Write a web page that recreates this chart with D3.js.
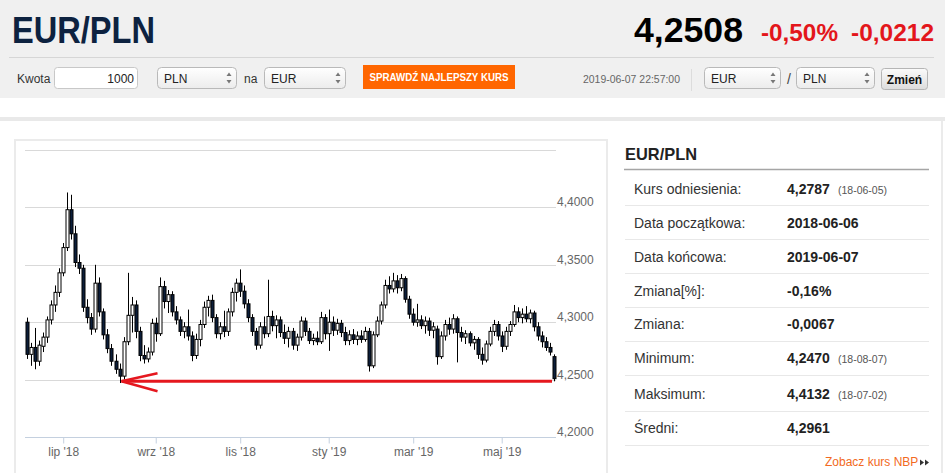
<!DOCTYPE html>
<html><head><meta charset="utf-8">
<script src="https://cdn.jsdelivr.net/npm/d3@7/dist/d3.min.js"></script>
<style>html,body{margin:0;padding:0;background:#fff;}svg{display:block;font-family:"Liberation Sans",Arial,sans-serif;}</style>
</head><body>
<script>
// ---------- DATA ----------
const dates = [
"2018-06-06","2018-06-08","2018-06-12","2018-06-14","2018-06-18","2018-06-20","2018-06-22","2018-06-26","2018-06-28",
"2018-07-02","2018-07-04","2018-07-06","2018-07-10","2018-07-12","2018-07-16","2018-07-18","2018-07-20","2018-07-24","2018-07-26","2018-07-30",
"2018-08-01","2018-08-03","2018-08-07","2018-08-09","2018-08-13","2018-08-15","2018-08-17","2018-08-21","2018-08-23","2018-08-27","2018-08-29","2018-08-31",
"2018-09-04","2018-09-06","2018-09-10","2018-09-12","2018-09-14","2018-09-18","2018-09-20","2018-09-24","2018-09-26","2018-09-28",
"2018-10-02","2018-10-04","2018-10-08","2018-10-10","2018-10-12","2018-10-16","2018-10-18","2018-10-22","2018-10-24","2018-10-26","2018-10-30",
"2018-11-01","2018-11-05","2018-11-07","2018-11-09","2018-11-13","2018-11-15","2018-11-19","2018-11-21","2018-11-23","2018-11-27","2018-11-29",
"2018-12-03","2018-12-05","2018-12-07","2018-12-11","2018-12-13","2018-12-17","2018-12-19","2018-12-21","2018-12-25","2018-12-27","2018-12-31",
"2019-01-02","2019-01-04","2019-01-08","2019-01-10","2019-01-14","2019-01-16","2019-01-18","2019-01-22","2019-01-24","2019-01-28","2019-01-30",
"2019-02-01","2019-02-05","2019-02-07","2019-02-11","2019-02-13","2019-02-15","2019-02-19","2019-02-21","2019-02-25","2019-02-27",
"2019-03-01","2019-03-05","2019-03-07","2019-03-11","2019-03-13","2019-03-15","2019-03-19","2019-03-21","2019-03-25","2019-03-27","2019-03-29",
"2019-04-02","2019-04-04","2019-04-08","2019-04-10","2019-04-12","2019-04-16","2019-04-18","2019-04-22","2019-04-24","2019-04-26","2019-04-30",
"2019-05-02","2019-05-06","2019-05-08","2019-05-10","2019-05-14","2019-05-16","2019-05-20","2019-05-22","2019-05-24","2019-05-28","2019-05-30",
"2019-06-03","2019-06-05","2019-06-07"];

const open = [4.300,4.272,4.278,4.266,4.279,4.287,4.302,4.315,4.326,4.343,4.365,4.398,4.377,4.352,4.347,4.313,4.304,4.294,4.334,4.309,
4.289,4.277,4.266,4.259,4.253,4.283,4.306,4.315,4.292,4.271,4.268,4.274,4.299,4.290,4.331,4.318,4.324,4.309,4.302,4.292,
4.296,4.288,4.271,4.285,4.298,4.313,4.319,4.304,4.290,4.296,4.292,4.309,4.326,4.334,4.327,4.316,4.304,4.292,4.280,4.296,
4.290,4.305,4.297,4.302,4.291,4.286,4.292,4.280,4.287,4.301,4.292,4.284,4.286,4.283,4.304,4.290,4.300,4.293,4.299,4.291,
4.284,4.289,4.285,4.288,4.285,4.292,4.262,4.289,4.301,4.315,4.332,4.329,4.336,4.330,4.338,4.320,4.307,4.300,4.302,4.297,
4.301,4.293,4.294,4.270,4.288,4.298,4.294,4.303,4.291,4.287,4.290,4.282,4.285,4.272,4.267,4.281,4.292,4.298,4.288,4.279,
4.292,4.298,4.309,4.304,4.307,4.303,4.308,4.296,4.288,4.283,4.278,4.270];
const high = [4.304,4.282,4.295,4.284,4.291,4.305,4.319,4.332,4.347,4.369,4.413,4.411,4.384,4.359,4.350,4.320,4.308,4.350,4.339,4.312,
4.294,4.281,4.272,4.264,4.287,4.343,4.322,4.319,4.296,4.280,4.278,4.303,4.304,4.339,4.336,4.328,4.327,4.314,4.305,4.300,
4.311,4.292,4.290,4.302,4.318,4.323,4.324,4.307,4.300,4.310,4.312,4.330,4.338,4.346,4.332,4.320,4.307,4.295,4.300,4.305,
4.337,4.310,4.306,4.305,4.298,4.296,4.295,4.290,4.305,4.304,4.295,4.290,4.292,4.309,4.307,4.311,4.305,4.303,4.302,4.296,
4.293,4.294,4.292,4.293,4.296,4.295,4.292,4.305,4.318,4.337,4.340,4.343,4.341,4.342,4.340,4.323,4.312,4.316,4.306,4.305,
4.304,4.300,4.297,4.292,4.302,4.304,4.307,4.305,4.296,4.293,4.292,4.288,4.287,4.278,4.284,4.296,4.302,4.301,4.292,4.296,
4.301,4.315,4.313,4.312,4.314,4.311,4.310,4.300,4.292,4.287,4.282,4.272];
const low = [4.268,4.262,4.259,4.262,4.274,4.282,4.298,4.309,4.322,4.340,4.362,4.372,4.348,4.342,4.309,4.299,4.289,4.291,4.305,4.285,
4.273,4.262,4.255,4.247,4.250,4.280,4.291,4.286,4.266,4.264,4.265,4.271,4.283,4.288,4.312,4.308,4.305,4.298,4.288,4.286,
4.284,4.266,4.268,4.279,4.295,4.305,4.300,4.286,4.285,4.287,4.288,4.305,4.318,4.322,4.312,4.300,4.288,4.276,4.277,4.286,
4.287,4.292,4.286,4.287,4.281,4.278,4.276,4.275,4.284,4.288,4.281,4.280,4.280,4.281,4.285,4.275,4.288,4.289,4.287,4.280,
4.280,4.281,4.280,4.282,4.283,4.257,4.260,4.287,4.298,4.312,4.325,4.326,4.325,4.327,4.317,4.303,4.297,4.296,4.294,4.290,
4.288,4.286,4.263,4.268,4.284,4.289,4.290,4.265,4.283,4.281,4.279,4.276,4.268,4.263,4.265,4.279,4.288,4.284,4.274,4.276,
4.288,4.296,4.300,4.299,4.300,4.299,4.292,4.284,4.278,4.275,4.271,4.2485];
const close = [4.272,4.278,4.266,4.280,4.287,4.302,4.315,4.326,4.343,4.365,4.398,4.377,4.352,4.347,4.313,4.304,4.294,4.334,4.309,4.289,
4.277,4.266,4.259,4.253,4.283,4.306,4.315,4.292,4.271,4.268,4.274,4.299,4.290,4.331,4.318,4.324,4.309,4.302,4.292,4.296,
4.288,4.271,4.285,4.298,4.313,4.319,4.304,4.290,4.296,4.292,4.309,4.326,4.334,4.327,4.316,4.304,4.292,4.280,4.296,4.290,
4.305,4.297,4.302,4.291,4.286,4.292,4.280,4.287,4.301,4.292,4.284,4.286,4.283,4.304,4.290,4.300,4.293,4.299,4.291,4.284,
4.289,4.285,4.288,4.285,4.292,4.262,4.289,4.301,4.315,4.332,4.329,4.336,4.330,4.338,4.320,4.307,4.300,4.302,4.297,4.301,
4.293,4.296,4.270,4.288,4.298,4.294,4.303,4.291,4.287,4.290,4.282,4.285,4.272,4.267,4.281,4.292,4.298,4.288,4.279,4.292,
4.298,4.309,4.304,4.307,4.303,4.308,4.296,4.288,4.283,4.278,4.274,4.2508];

const tickDates  = ["2018-07-02","2018-09-04","2018-11-01","2019-01-02","2019-03-01","2019-05-02"];
const tickLabels = ["lip '18","wrz '18","lis '18","sty '19","mar '19","maj '19"];
const gridValues = [4.25,4.30,4.35,4.40,4.45];
const yLabelValues = [4.20,4.25,4.30,4.35,4.40];
const annotLevel = 4.2485;

const pairName = "EUR/PLN";
const lastRate = "4,2508";
const changePct = "-0,50%";
const changeAbs = "-0,0212";
const timestamp = "2019-06-07 22:57:00";
const amount = "1000";
const statLabels = ["Kurs odniesienia:","Data początkowa:","Data końcowa:","Zmiana[%]:","Zmiana:","Minimum:","Maksimum:","Średni:"];
const statValues = ["4,2787","2018-06-06","2019-06-07","-0,16%","-0,0067","4,2470","4,4132","4,2961"];
const statDates  = ["(18-06-05)","","","","","(18-08-07)","(18-07-02)",""];

// ---------- DRAW ----------
const W = 945, H = 473;
const svg = d3.select("body").append("svg").attr("width", W).attr("height", H);
const defs = svg.append("defs");
const g1 = defs.append("linearGradient").attr("id","selg").attr("x1",0).attr("y1",0).attr("x2",0).attr("y2",1);
g1.append("stop").attr("offset","0%").attr("stop-color","#ffffff");
g1.append("stop").attr("offset","100%").attr("stop-color","#ececec");
const g2 = defs.append("linearGradient").attr("id","btng").attr("x1",0).attr("y1",0).attr("x2",0).attr("y2",1);
g2.append("stop").attr("offset","0%").attr("stop-color","#fbfbfb");
g2.append("stop").attr("offset","100%").attr("stop-color","#dcdcdc");

// backgrounds
svg.append("rect").attr("x",0).attr("y",0).attr("width",W).attr("height",98).attr("fill","#f0f0f0");
svg.append("rect").attr("x",0).attr("y",117).attr("width",W).attr("height",4).attr("fill","#e9e9e9");
svg.append("line").attr("x1",9).attr("x2",934).attr("y1",57.5).attr("y2",57.5).attr("stroke","#d6d6d6");

function txt(x, y, s, o) {
  o = o || {};
  const t = svg.append("text").attr("x", x).attr("y", y).text(s)
    .attr("font-size", o.size || 12).attr("fill", o.fill || "#333")
    .attr("font-weight", o.weight || "normal")
    .attr("text-anchor", o.anchor || "start");
  if (o.len) t.attr("textLength", o.len).attr("lengthAdjust", "spacingAndGlyphs");
  if (o.family) t.attr("font-family", o.family);
  return t;
}

// header
txt(12, 43, pairName, {size:36, fill:"#0d2240", weight:"bold", len:143});
txt(634, 42, lastRate, {size:35, fill:"#000", weight:"bold", len:109});
txt(761, 41, changePct, {size:24, fill:"#e3161b", weight:"bold", len:77});
txt(851, 41, changeAbs, {size:24, fill:"#e3161b", weight:"bold", len:83});

// controls row
txt(17, 83, "Kwota", {size:12, fill:"#333"});
svg.append("rect").attr("x",54.5).attr("y",67.5).attr("width",83).attr("height",21).attr("rx",3)
  .attr("fill","#fff").attr("stroke","#c8c8c8");
txt(134, 83, amount, {size:12, fill:"#222", anchor:"end"});

function select(x, w, label) {
  svg.append("rect").attr("x",x+0.5).attr("y",67.5).attr("width",w).attr("height",21).attr("rx",4)
    .attr("fill","url(#selg)").attr("stroke","#b9b9b9");
  txt(x+7, 83, label, {size:12, fill:"#222"});
  const ax = x + w - 7;
  svg.append("path").attr("d",`M${ax-2.5},${76}L${ax+2.5},${76}L${ax},${72.5}Z`).attr("fill","#777");
  svg.append("path").attr("d",`M${ax-2.5},${80}L${ax+2.5},${80}L${ax},${83.5}Z`).attr("fill","#777");
}
select(157, 79, "PLN");
txt(244, 83, "na", {size:12, fill:"#333"});
select(264, 81, "EUR");
svg.append("rect").attr("x",363).attr("y",65).attr("width",152).attr("height",24).attr("fill","#ff6600");
txt(439, 81, "SPRAWDŹ NAJLEPSZY KURS", {size:11, fill:"#fff", weight:"bold", anchor:"middle", len:139});
txt(583, 83, timestamp, {size:11, fill:"#666", len:97});
svg.append("line").attr("x1",691.5).attr("x2",691.5).attr("y1",69).attr("y2",91).attr("stroke","#dcdcdc");
select(704, 76, "EUR");
txt(787, 84, "/", {size:14, fill:"#444"});
select(796, 78, "PLN");
svg.append("rect").attr("x",881.5).attr("y",68.5).attr("width",46).attr("height",21).attr("rx",3)
  .attr("fill","url(#btng)").attr("stroke","#b5b5b5");
txt(904.5, 83.5, "Zmień", {size:12, fill:"#111", weight:"bold", anchor:"middle"});

// panels
svg.append("rect").attr("x",15).attr("y",140).attr("width",592).attr("height",345)
  .attr("fill","none").attr("stroke","#ebebeb").attr("stroke-width",2);
svg.append("line").attr("x1",942).attr("x2",942).attr("y1",121).attr("y2",H).attr("stroke","#ebebeb").attr("stroke-width",2);

// ---------- chart ----------
const plotL = 25, plotR = 556;
const x = d3.scalePoint().domain(dates).range([27, 554]);
const y = d3.scaleLinear().domain([4.20, 4.45]).range([437, 150]);
const fmt = d3.formatLocale({decimal:",", thousands:" ", grouping:[3], currency:["","zł"]}).format(".4f");

const chart = svg.append("g");
chart.selectAll("line.grid").data(gridValues).join("line").attr("class","grid")
  .attr("x1", plotL).attr("x2", plotR)
  .attr("y1", d => Math.round(y(d)) + 0.5).attr("y2", d => Math.round(y(d)) + 0.5)
  .attr("stroke", "#d9d9d9");

chart.selectAll("text.ylab").data(yLabelValues).join("text").attr("class","ylab")
  .attr("x", 557).attr("y", d => Math.round(y(d)) - 1.5)
  .attr("font-size", 12).attr("fill", "#666").text(d => fmt(d));

// x axis
const xAxis = d3.axisBottom(x).tickValues(tickDates).tickFormat((d, i) => tickLabels[i]).tickSize(6).tickSizeOuter(0);
const axG = chart.append("g").attr("transform", `translate(0,${Math.round(y(4.20)) + 0.5})`).call(xAxis);
axG.select(".domain").remove();
axG.selectAll(".tick line").attr("stroke", "#c4d0df");
axG.selectAll(".tick text").attr("font-size", 12).attr("fill", "#666").attr("dy", null).attr("y", 18.5)
  .attr("font-family", '"Liberation Sans",Arial,sans-serif');
chart.append("line").attr("x1", plotL).attr("x2", plotR)
  .attr("y1", Math.round(y(4.20)) + 0.5).attr("y2", Math.round(y(4.20)) + 0.5).attr("stroke", "#c4d0df");

// candles
const candles = dates.map((d, i) => ({d, o: open[i], h: high[i], l: low[i], c: close[i]}));
const cg = chart.append("g");
const cx = d => Math.round(x(d.d)) + 0.5;
cg.selectAll("line.wick").data(candles).join("line").attr("class","wick")
  .attr("x1", cx).attr("x2", cx).attr("y1", d => y(d.h)).attr("y2", d => y(d.l))
  .attr("stroke", "#000").attr("stroke-width", 1);
cg.selectAll("rect.body").data(candles).join("rect").attr("class","body")
  .attr("x", d => cx(d) - 1.5).attr("width", 3)
  .attr("y", d => y(Math.max(d.o, d.c)))
  .attr("height", d => Math.max(1, Math.abs(y(d.o) - y(d.c))))
  .attr("fill", d => d.c >= d.o ? "#ffffff" : "#0c1e3a")
  .attr("stroke", "#000").attr("stroke-width", 1);

// red annotation
let minIdx = 0;
low.forEach((v, i) => { if (v < low[minIdx]) minIdx = i; });
const ax0 = x(dates[minIdx]) + 2, ax1 = x(dates[dates.length - 1]) - 2, ay = y(annotLevel);
const red = "#e5171e";
chart.append("line").attr("x1", ax0).attr("x2", ax1).attr("y1", ay).attr("y2", ay)
  .attr("stroke", red).attr("stroke-width", 3);
chart.append("path").attr("d", `M${ax0 + 36},${ay - 8}L${ax0},${ay}L${ax0 + 36},${ay + 10}`)
  .attr("fill", "none").attr("stroke", red).attr("stroke-width", 2.5).attr("stroke-linejoin","miter");

// ---------- stats panel ----------
txt(625, 159.5, pairName, {size:17, fill:"#222", weight:"bold", len:72});
svg.append("line").attr("x1",624).attr("x2",929).attr("y1",169.5).attr("y2",169.5).attr("stroke","#a5a5a5").attr("stroke-width",1.5);
const rowY = [189, 222.5, 256.5, 290.5, 324, 358, 393.5, 428];
const sepY = [205, 239, 273, 307, 341, 375, 411, 445];
svg.selectAll("line.sep").data(sepY).join("line").attr("class","sep")
  .attr("x1",625).attr("x2",929).attr("y1",d=>d+0.5).attr("y2",d=>d+0.5).attr("stroke","#e8e8e8");
statLabels.forEach((s, i) => {
  txt(634, rowY[i] + 5, s, {size:14, fill:"#333"});
  txt(787, rowY[i] + 5, statValues[i], {size:14, fill:"#222", weight:"bold"});
  if (statDates[i]) txt(838, rowY[i] + 5, statDates[i], {size:10.5, fill:"#555"});
});
txt(825, 466, "Zobacz kurs NBP", {size:12, fill:"#f26a22"});
svg.append("path").attr("d","M920,459.5L924,462.5L920,465.5Z M925,459.5L929,462.5L925,465.5Z").attr("fill","#333");
</script>
</body></html>
